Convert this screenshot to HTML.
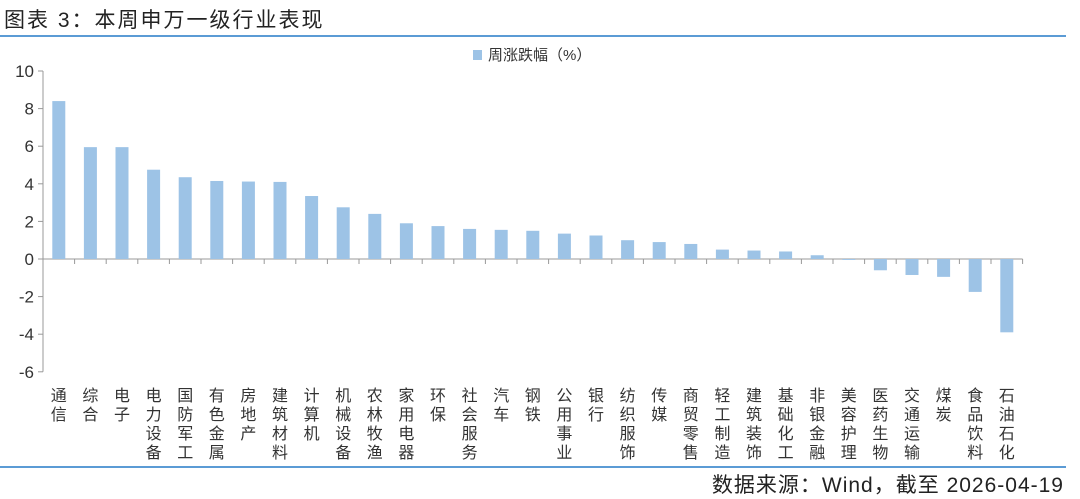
<!DOCTYPE html><html><head><meta charset="utf-8"><style>
body{margin:0;width:1080px;height:494px;background:#fff;font-family:"Liberation Sans","Noto Sans CJK SC",sans-serif;overflow:hidden;position:relative;color:#222}
.t{position:absolute;left:4px;top:4px;font-size:21px;letter-spacing:2px}
.hl{position:absolute;left:0;width:1066px;height:2px;background:#5b9bd5}
.src{position:absolute;right:16px;top:469px;font-size:21px;letter-spacing:1px}
</style></head><body>
<div class="t">图表 3：本周申万一级行业表现</div>
<div class="hl" style="top:35px"></div>
<div class="hl" style="top:466px"></div>
<div class="src">数据来源：Wind，截至 2026-04-19</div>
<svg width="1080" height="494" style="position:absolute;left:0;top:0" font-family="Liberation Sans,Noto Sans CJK SC,sans-serif">
<rect x="473" y="50" width="9" height="10" fill="#9dc3e6"/>
<text x="488" y="60" font-size="15" fill="#333">周涨跌幅（%）</text>
<g id="g"></g>
</svg>
<script>
var v=[8.4,5.95,5.95,4.75,4.35,4.15,4.12,4.1,3.35,2.75,2.4,1.9,1.75,1.6,1.55,1.5,1.35,1.25,1.0,0.9,0.8,0.5,0.45,0.4,0.2,-0.05,-0.6,-0.85,-0.95,-1.75,-3.9];
var n=["通信","综合","电子","电力设备","国防军工","有色金属","房地产","建筑材料","计算机","机械设备","农林牧渔","家用电器","环保","社会服务","汽车","钢铁","公用事业","银行","纺织服饰","传媒","商贸零售","轻工制造","建筑装饰","基础化工","非银金融","美容护理","医药生物","交通运输","煤炭","食品饮料","石油石化"];
var y0=71,u=18.8,z=y0+10*u,x0=43,w=31.6,s='';
s+='<line x1="'+x0+'" y1="'+y0+'" x2="'+x0+'" y2="'+(y0+16*u)+'" stroke="#999"/>';
for(var k=10;k>=-6;k-=2){var y=y0+(10-k)*u;s+='<line x1="'+(x0-5)+'" y1="'+y+'" x2="'+x0+'" y2="'+y+'" stroke="#999"/><text x="'+(x0-9)+'" y="'+(y+6)+'" font-size="17" text-anchor="end" fill="#333">'+k+'</text>';}
s+='<line x1="'+x0+'" y1="'+z+'" x2="'+(x0+31*w)+'" y2="'+z+'" stroke="#999"/>';
for(var i=0;i<31;i++){var cx=x0+w*(i+0.5),h=v[i]*u;
s+='<rect x="'+(cx-6.5)+'" y="'+(h>0?z-h:z)+'" width="13" height="'+Math.abs(h)+'" fill="#9dc3e6"/>';
s+='<line x1="'+(x0+w*(i+1))+'" y1="'+z+'" x2="'+(x0+w*(i+1))+'" y2="'+(z+5)+'" stroke="#999"/>';
for(var j=0;j<n[i].length;j++)s+='<text x="'+cx+'" y="'+(401+j*19)+'" font-size="16" text-anchor="middle" fill="#333">'+n[i][j]+'</text>';}
document.getElementById('g').innerHTML=s;
</script>
</body></html>
